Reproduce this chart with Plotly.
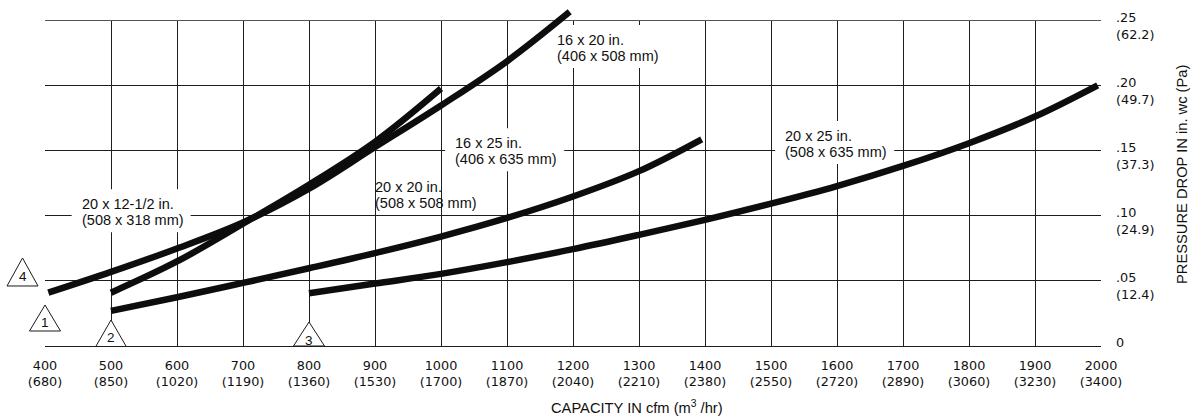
import plotly.graph_objects as go

# ---------------- data ----------------
cfm_ticks = [400, 500, 600, 700, 800, 900, 1000, 1100, 1200, 1300, 1400,
             1500, 1600, 1700, 1800, 1900, 2000]
m3hr_ticks = [680, 850, 1020, 1190, 1360, 1530, 1700, 1870, 2040, 2210, 2380,
              2550, 2720, 2890, 3060, 3230, 3400]
inwc_ticks = [0, 0.05, 0.10, 0.15, 0.20, 0.25]
inwc_text = ["0", ".05", ".10", ".15", ".20", ".25"]
pa_text = ["", "12.4", "24.9", "37.3", "49.7", "62.2"]

# curve starting at 400 cfm and running to 1200 cfm
curve_a_cfm = [405, 500, 600, 700, 800, 900, 1000, 1100, 1195]
curve_a_drop = [0.041, 0.057, 0.075, 0.095, 0.121, 0.153, 0.185, 0.219, 0.257]
# curve starting at 500 cfm and running to 1000 cfm
curve_b_cfm = [500, 600, 700, 800, 900, 1000]
curve_b_drop = [0.041, 0.065, 0.094, 0.124, 0.157, 0.198]
# curve starting at 500 cfm and running to 1400 cfm
curve_c_cfm = [500, 600, 700, 800, 900, 1000, 1100, 1200, 1300, 1395]
curve_c_drop = [0.027, 0.0375, 0.0485, 0.0598, 0.0715, 0.0842, 0.0985, 0.115, 0.1345, 0.159]
# curve starting at 800 cfm and running to 2000 cfm
curve_d_cfm = [800, 900, 1000, 1100, 1200, 1300, 1400, 1500, 1600, 1700, 1800, 1900, 1995]
curve_d_drop = [0.0405, 0.048, 0.0555, 0.0645, 0.0745, 0.0855, 0.097, 0.1095, 0.123, 0.1385,
                0.156, 0.1765, 0.2005]

# size labels: line1, line2, anchor cfm, anchor in. wc, white box?
label_line1 = ["20 x 12-1/2 in.", "20 x 20 in.", "16 x 25 in.", "16 x 20 in.", "20 x 25 in."]
label_line2 = ["(508 x 318 mm)", "(508 x 508 mm)", "(406 x 635 mm)", "(406 x 508 mm)", "(508 x 635 mm)"]
label_cfm = [454, 899, 1020, 1174, 1520]
label_drop = [0.109, 0.1223, 0.156, 0.2354, 0.1615]
label_boxed = [True, False, True, True, True]

# numbered triangle markers: number, anchor cfm, anchor in. wc
tri_num = ["1", "2", "3", "4"]
tri_cfm = [400, 500, 800, 400]
tri_drop = [0, 0, 0, 0.05]

# ---------------- style ----------------
X_RANGE = [cfm_ticks[0], cfm_ticks[-1]]
Y_RANGE = [0, 0.2615]
LINE_W = 6.5
CURVE_COLOR = "#0d0d0d"
GRID_COLOR = "#1e1e1e"
TEXT_COLOR = "#111111"
TICK_FONT = dict(family="DejaVu Sans", size=12.8, color=TEXT_COLOR)
LABEL_FONT = dict(family="Liberation Sans, Arial, sans-serif", size=14.5, color=TEXT_COLOR)
TITLE_FONT = dict(family="Liberation Sans, Arial, sans-serif", size=14.7, color=TEXT_COLOR)

# pixel geometry of triangles (center x offset, base y offset, apex y offset)
tri_geom = [(0, 15, 41), (0, -1, 26), (0, 0, 24), (-22.5, -5, 23)]
tri_text_dy = [24, 9, 6, 4]
TRI_HW = 15.5

fig = go.Figure()

for xs, ys in [(curve_a_cfm, curve_a_drop), (curve_b_cfm, curve_b_drop),
               (curve_c_cfm, curve_c_drop), (curve_d_cfm, curve_d_drop)]:
    fig.add_trace(go.Scatter(x=xs, y=ys, mode="lines",
                             line=dict(color=CURVE_COLOR, width=LINE_W, shape="spline"),
                             hoverinfo="skip", showlegend=False))

shapes = []
# hide grid above the .25 line (plot area extends a little higher so a curve can overshoot)
shapes.append(dict(type="rect", xref="x", yref="y", x0=X_RANGE[0] - 50, x1=X_RANGE[1] + 50,
                   y0=inwc_ticks[-1] + 0.0006, y1=0.27, layer="between",
                   line=dict(width=0), fillcolor="white"))

annotations = []
for l1, l2, x, y, boxed in zip(label_line1, label_line2, label_cfm, label_drop, label_boxed):
    if boxed:
        shapes.append(dict(type="rect", xref="x", yref="y", xsizemode="pixel", ysizemode="pixel",
                           xanchor=x, yanchor=y, x0=-9, x1=110, y0=15, y1=-28,
                           layer="between", line=dict(width=0), fillcolor="white"))
    annotations.append(dict(x=x, y=y, xref="x", yref="y", text=l1, showarrow=False,
                            xanchor="left", yanchor="middle", font=LABEL_FONT, borderpad=0))
    annotations.append(dict(x=x, y=y, xref="x", yref="y", text=l2, showarrow=False,
                            xanchor="left", yanchor="middle", yshift=-16, font=LABEL_FONT,
                            borderpad=0))


def x_domain(v):
    return (v - X_RANGE[0]) / (X_RANGE[1] - X_RANGE[0])


for num, x, y, (cx, by, ay), tdy in zip(tri_num, tri_cfm, tri_drop, tri_geom, tri_text_dy):
    path = f"M{cx - TRI_HW},{by} L{cx + TRI_HW},{by} L{cx},{ay} Z"
    shapes.append(dict(type="path", xref="x domain", yref="y", xsizemode="pixel",
                       ysizemode="pixel", xanchor=x_domain(x), yanchor=y, path=path,
                       layer="above", line=dict(color="#1a1a1a", width=1), fillcolor="white"))
    annotations.append(dict(x=x, y=y, xref="x", yref="y", text=num, showarrow=False,
                            xanchor="center", yanchor="middle", xshift=cx, yshift=tdy,
                            font=dict(family="Liberation Sans, Arial, sans-serif", size=13.5,
                                      color=TEXT_COLOR)))

annotations.append(dict(x=0.5606, y=-0.1794, xref="paper", yref="paper",
                        text="CAPACITY IN cfm (m<sup>3</sup> /hr)", showarrow=False,
                        xanchor="center", yanchor="middle", font=TITLE_FONT))
annotations.append(dict(x=1.0767, y=0.506, xref="paper", yref="paper",
                        text="PRESSURE DROP IN in. wc (Pa)", showarrow=False, textangle=-90,
                        xanchor="center", yanchor="middle", font=TITLE_FONT))

fig.update_layout(
    width=1195, height=419,
    margin=dict(l=45, r=94, t=6, b=73),
    paper_bgcolor="white", plot_bgcolor="white",
    shapes=shapes, annotations=annotations,
    xaxis=dict(range=X_RANGE, tickmode="array", tickvals=cfm_ticks,
               ticktext=[f"{a}<br>({b})" for a, b in zip(cfm_ticks, m3hr_ticks)],
               showgrid=True, gridcolor=GRID_COLOR, gridwidth=1.4, zeroline=False,
               showline=True, linecolor=GRID_COLOR, linewidth=1.4,
               ticks="", tickfont=TICK_FONT, ticklabelstandoff=7, automargin=False),
    yaxis=dict(range=Y_RANGE, side="right", tickmode="array", tickvals=inwc_ticks,
               ticktext=[f"{a}<br>({b})" if b else f"{a}<br>\u00a0"
                         for a, b in zip(inwc_text, pa_text)],
               showgrid=True, gridcolor=GRID_COLOR, gridwidth=1.4, zeroline=False,
               showline=False, ticks="", tickfont=TICK_FONT, ticklabelstandoff=14,
               ticklabelshift=5, automargin=False),
)

fig.write_html("out.html", config={"displayModeBar": False},
               post_script="document.body.style.margin='0px';document.body.style.padding='0px';")
